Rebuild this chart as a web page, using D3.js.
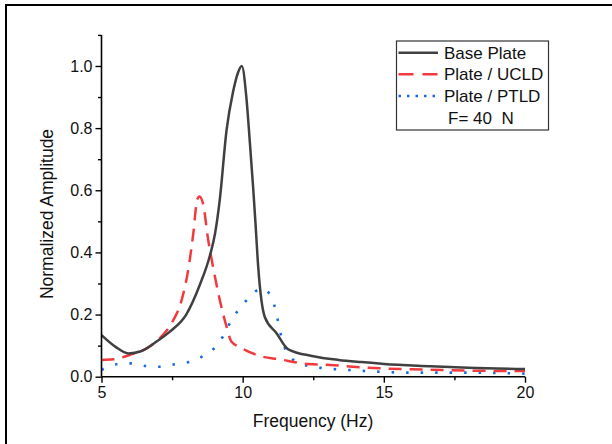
<!DOCTYPE html>
<html>
<head>
<meta charset="utf-8">
<script src="https://cdn.jsdelivr.net/npm/d3@7"></script>
<style>
  html, body { margin: 0; padding: 0; background: #fff; }
  svg { display: block; font-family: "Liberation Sans", Arial, sans-serif; }
</style>
</head>
<body>
<svg id="chart" width="612" height="444"></svg>
<script>
// ---- Data ----
const baseFreq = [5, 5.5, 5.95, 6.4, 6.95, 7.42, 8.0, 8.48, 8.84, 9.02, 9.19, 9.43, 9.66, 9.84, 9.97, 10.13, 10.25, 10.37, 10.45, 10.55, 10.78, 11.2, 11.6, 12.5, 13.4, 14.2, 15.0, 16.6, 18.0, 20.0];
const baseAmp  = [0.134, 0.096, 0.075, 0.082, 0.113, 0.145, 0.20, 0.295, 0.39, 0.46, 0.57, 0.794, 0.917, 0.98, 1.0, 0.90, 0.76, 0.61, 0.50, 0.354, 0.193, 0.14, 0.089, 0.066, 0.054, 0.047, 0.041, 0.034, 0.029, 0.025];

const ucldFreq = [5, 5.42, 6.0, 6.6, 7.07, 7.48, 7.84, 8.07, 8.25, 8.39, 8.47, 8.6, 8.78, 8.95, 9.19, 9.43, 9.6, 9.9, 10.6, 11.3, 12.3, 13.1, 13.9, 14.85, 16.0, 17.2, 18.4, 20];
const ucldAmp  = [0.054, 0.056, 0.07, 0.091, 0.124, 0.172, 0.247, 0.343, 0.46, 0.57, 0.58, 0.555, 0.44, 0.354, 0.247, 0.161, 0.113, 0.095, 0.067, 0.056, 0.041, 0.038, 0.032, 0.027, 0.024, 0.021, 0.019, 0.018];

const ptldFreq = [5, 5.54, 6.07, 6.6, 7.07, 7.6, 8.13, 8.66, 9.07, 9.37, 9.6, 9.9, 10.25, 10.67, 11.02, 11.2, 11.37, 11.55, 11.9, 12.3, 12.9, 13.85, 14.4, 16.0, 17.7, 20];
const ptldAmp  = [0.022, 0.04, 0.043, 0.034, 0.032, 0.04, 0.048, 0.07, 0.099, 0.14, 0.182, 0.22, 0.257, 0.284, 0.257, 0.2, 0.129, 0.08, 0.048, 0.035, 0.027, 0.021, 0.018, 0.013, 0.013, 0.01];

const seriesNames = ["Base Plate", "Plate / UCLD", "Plate / PTLD"];
const xTicks = [5, 10, 15, 20];
const xMinorTicks = [7.5, 12.5, 17.5];
const yTicks = [0.0, 0.2, 0.4, 0.6, 0.8, 1.0];
const yMinorTicks = [0.1, 0.3, 0.5, 0.7, 0.9, 1.1];
const xTitle = "Frequency (Hz)";
const yTitle = "Normalized Amplitude";
const noteText = "F= 40  N";

// ---- Layout ----
const svg = d3.select("#chart");
const plot = { left: 101.5, right: 525, top: 34.9, bottom: 376.7 };
const x = d3.scaleLinear().domain([5, 20]).range([plot.left, plot.right]);
const y = d3.scaleLinear().domain([0, 1.1]).range([plot.bottom, plot.top]);

// outer frame (top and left edges visible)
svg.append("path")
  .attr("d", "M6,444 L6,5 L612,5")
  .attr("fill", "none").attr("stroke", "#000").attr("stroke-width", 2);

const styles = [
  { color: "#404040", dash: null, legendDash: null, width: 2.5 },
  { color: "#f23a3e", dash: "13,8", legendDash: "15,9", width: 2.5 },
  { color: "#1a6ae0", dash: "2.5,12", legendDash: "2.5,6", width: 2.6 }
];
const series = [
  baseFreq.map((f, i) => [f, baseAmp[i]]),
  ucldFreq.map((f, i) => [f, ucldAmp[i]]),
  ptldFreq.map((f, i) => [f, ptldAmp[i]])
];

const line = d3.line().x(d => x(d[0])).y(d => y(d[1])).curve(d3.curveMonotoneX);

// draw order: blue, red, black on top
[2, 1, 0].forEach(i => {
  svg.append("path")
    .datum(series[i])
    .attr("d", line)
    .attr("fill", "none")
    .attr("stroke", styles[i].color)
    .attr("stroke-width", styles[i].width)
    .attr("stroke-dasharray", styles[i].dash)
    .attr("stroke-linejoin", "round");
});

// ---- Axes ----
const fontTick = 16;
const xAxis = svg.append("g").attr("transform", `translate(0,${plot.bottom})`)
  .call(d3.axisBottom(x).tickValues(xTicks).tickSize(6).tickPadding(4).tickFormat(d3.format("d")));
const xMinor = svg.append("g").attr("transform", `translate(0,${plot.bottom})`)
  .call(d3.axisBottom(x).tickValues(xMinorTicks).tickSize(3.5).tickFormat(""));
const yAxis = svg.append("g").attr("transform", `translate(${plot.left},0)`)
  .call(d3.axisLeft(y).tickValues(yTicks).tickSize(6).tickPadding(3).tickFormat(d3.format(".1f")));
const yMinor = svg.append("g").attr("transform", `translate(${plot.left},0)`)
  .call(d3.axisLeft(y).tickValues(yMinorTicks).tickSize(3.5).tickFormat(""));

[xAxis, xMinor, yAxis, yMinor].forEach(g => {
  g.attr("font-size", fontTick).attr("font-family", '"Liberation Sans", Arial, sans-serif');
  g.select(".domain").attr("stroke", "#000").attr("stroke-width", 1.6);
  g.selectAll(".tick line").attr("stroke", "#000").attr("stroke-width", 1.4);
  g.selectAll("text").attr("font-size", fontTick).attr("fill", "#111");
});
xMinor.select(".domain").remove();
yMinor.select(".domain").remove();
yAxis.select(".domain").attr("d", `M0,${plot.bottom}V${plot.top}`);
xAxis.select(".domain").attr("d", `M${plot.left},0H${plot.right}`);

// ---- Titles ----
svg.append("text")
  .attr("x", 313).attr("y", 427)
  .attr("text-anchor", "middle")
  .attr("font-size", 17.5).attr("fill", "#111")
  .text(xTitle);
svg.append("text")
  .attr("transform", `translate(53,214) rotate(-90)`)
  .attr("text-anchor", "middle")
  .attr("font-size", 17.5).attr("fill", "#111")
  .text(yTitle);

// ---- Legend ----
const lg = svg.append("g");
lg.append("rect")
  .attr("x", 396.5).attr("y", 41).attr("width", 152).attr("height", 89)
  .attr("fill", "#fff").attr("stroke", "#333").attr("stroke-width", 1.2);
const rowY = [52.7, 74.3, 96];
seriesNames.forEach((name, i) => {
  lg.append("line")
    .attr("x1", 398.5).attr("x2", 438).attr("y1", rowY[i]).attr("y2", rowY[i])
    .attr("stroke", styles[i].color).attr("stroke-width", styles[i].width)
    .attr("stroke-dasharray", styles[i].legendDash);
  lg.append("text")
    .attr("x", 444).attr("y", rowY[i] + 6)
    .attr("font-size", 17).attr("fill", "#111")
    .text(name);
});
lg.append("text")
  .attr("x", 448).attr("y", 123.5)
  .attr("font-size", 17).attr("fill", "#111")
  .attr("xml:space", "preserve").style("white-space", "pre")
  .text(noteText);
</script>
</body>
</html>
